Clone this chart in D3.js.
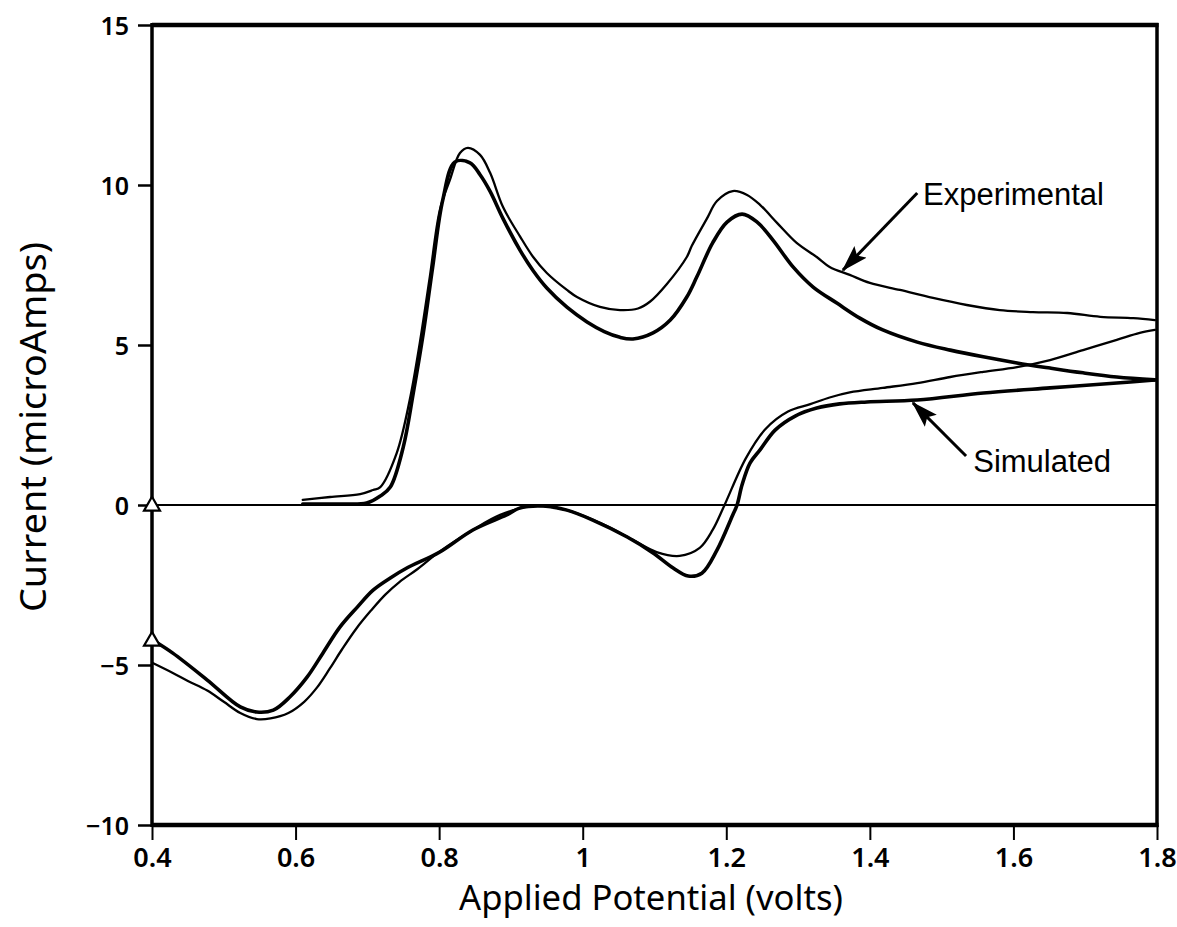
<!DOCTYPE html>
<html><head><meta charset="utf-8">
<script src="https://cdn.jsdelivr.net/npm/d3@7"></script>
<style>
html,body{margin:0;padding:0;background:#fff;}
svg{display:block;}
</style></head>
<body>
<svg id="chart" width="1177" height="927"></svg>
<script>
// ---- data (volts, microAmps) ----
const xTicks = [0.4, 0.6, 0.8, 1.0, 1.2, 1.4, 1.6, 1.8];
const yTicks = [-10, -5, 0, 5, 10, 15];
const xTickLabels = ["0.4", "0.6", "0.8", "1", "1.2", "1.4", "1.6", "1.8"];
const yTickLabels = ["\u221210", "\u22125", "0", "5", "10", "15"];

const expForwardV = [0.610,0.648,0.690,0.708,0.718,0.741,0.759,0.773,0.787,0.801,0.815,0.829,0.840,0.857,0.871,0.889,0.913,0.931,0.950,0.978,0.992,1.024,1.052,1.077,1.094,1.117,1.145,1.152,1.173,1.187,1.209,1.229,1.247,1.271,1.298,1.326,1.344,1.372,1.400,1.442,1.488,1.535,1.581,1.627,1.675,1.721,1.767,1.797];
const expForwardI = [0.16,0.25,0.34,0.47,0.56,1.63,3.28,5.06,7.13,9.22,10.16,11.0,11.16,10.94,10.38,9.31,8.38,7.75,7.25,6.72,6.50,6.19,6.09,6.14,6.36,6.90,7.75,8.10,8.95,9.50,9.81,9.69,9.38,8.81,8.19,7.75,7.44,7.19,6.94,6.72,6.47,6.25,6.09,6.03,6.0,5.88,5.84,5.78];

const simForwardV = [0.610,0.662,0.699,0.718,0.732,0.750,0.764,0.778,0.791,0.805,0.822,0.843,0.857,0.871,0.889,0.913,0.931,0.950,0.978,1.006,1.030,1.052,1.070,1.098,1.122,1.145,1.159,1.181,1.201,1.222,1.243,1.265,1.293,1.321,1.354,1.386,1.418,1.466,1.512,1.558,1.605,1.651,1.697,1.744,1.797];
const simForwardI = [0.03,0.03,0.06,0.28,0.56,1.81,3.5,5.38,7.44,9.53,10.72,10.69,10.32,9.80,8.95,7.95,7.32,6.78,6.18,5.72,5.42,5.24,5.19,5.38,5.78,6.5,7.13,8.19,8.84,9.09,8.84,8.28,7.44,6.81,6.31,5.84,5.47,5.09,4.84,4.63,4.44,4.28,4.13,4.0,3.91];

const expReverseV = [1.797,1.776,1.744,1.697,1.651,1.605,1.558,1.512,1.466,1.418,1.372,1.344,1.317,1.286,1.254,1.227,1.197,1.181,1.163,1.135,1.103,1.070,1.024,0.978,0.931,0.885,0.847,0.801,0.770,0.745,0.725,0.705,0.685,0.665,0.648,0.630,0.612,0.590,0.565,0.546,0.523,0.500,0.477,0.450,0.429,0.401];
const expReverseI = [5.47,5.38,5.16,4.84,4.53,4.31,4.16,4.0,3.81,3.66,3.52,3.36,3.15,2.92,2.36,1.45,-0.03,-0.78,-1.34,-1.59,-1.47,-1.09,-0.56,-0.16,-0.03,-0.31,-0.78,-1.45,-2.0,-2.4,-2.8,-3.3,-3.85,-4.5,-5.1,-5.7,-6.15,-6.5,-6.67,-6.69,-6.5,-6.15,-5.8,-5.5,-5.25,-4.94];

const simReverseV = [1.797,1.744,1.651,1.558,1.466,1.396,1.358,1.326,1.296,1.268,1.247,1.233,1.222,1.215,1.209,1.187,1.166,1.147,1.126,1.098,1.062,1.014,0.978,0.945,0.913,0.894,0.847,0.801,0.755,0.732,0.708,0.686,0.662,0.638,0.616,0.592,0.569,0.546,0.523,0.477,0.429,0.401];
const simReverseI = [3.91,3.81,3.66,3.5,3.28,3.22,3.16,3.03,2.78,2.34,1.72,1.31,0.63,0.0,-0.31,-1.41,-2.13,-2.22,-1.97,-1.5,-1.0,-0.47,-0.16,-0.03,-0.09,-0.31,-0.78,-1.47,-1.97,-2.28,-2.66,-3.19,-3.81,-4.63,-5.38,-6.0,-6.41,-6.47,-6.31,-5.47,-4.63,-4.22];

// start markers on the left axis
const triangleMarks = [{v:0.4, i:0.0}, {v:0.4, i:-4.22}];
const crossMarks = [{v:0.4, i:-4.85}];

// annotations (text + arrow, data coordinates)
const annotations = [
  {text:"Experimental", tv:1.474, ti:9.37, fromV:1.466, fromI:9.75, toV:1.3625, toI:7.34},
  {text:"Simulated",    tv:1.544, ti:1.03, fromV:1.534, fromI:1.53, toV:1.460,  toI:3.19}
];

// ---- layout ----
const svg = d3.select("#chart");
const pL = 152, pR = 1157, pT = 25, pB = 825;
const x = d3.scaleLinear().domain([0.4, 1.8]).range([pL, pR]);
const y = d3.scaleLinear().domain([-10, 15]).range([pB, pT]);

const tickFont = "'Noto Sans', 'DejaVu Sans', sans-serif";

// x axis
const xAxis = svg.append("g").attr("transform", `translate(0,${pB})`)
  .call(d3.axisBottom(x).tickValues(xTicks).tickSize(15).tickSizeOuter(0)
        .tickFormat((d,i) => xTickLabels[i]));
xAxis.select(".domain").remove();
xAxis.selectAll(".tick line").attr("stroke","#000").attr("stroke-width",2);
xAxis.selectAll(".tick text").attr("font-family", tickFont).attr("font-size", 27)
  .attr("font-weight", 600).attr("fill","#000").attr("dy", null).attr("y", 42);

// y axis
const yAxis = svg.append("g").attr("transform", `translate(${pL},0)`)
  .call(d3.axisLeft(y).tickValues(yTicks).tickSize(14).tickSizeOuter(0)
        .tickFormat((d,i) => yTickLabels[i]));
yAxis.select(".domain").remove();
yAxis.selectAll(".tick line").attr("stroke","#000").attr("stroke-width",2.5);
yAxis.selectAll(".tick text").attr("font-family", tickFont).attr("font-size", 25)
  .attr("fill","#000").attr("x", -23).attr("dy","0.36em").attr("font-weight", 600);

// frame
svg.append("line").attr("x1", pL).attr("x2", pR+1.5).attr("y1", y(15)).attr("y2", y(15))
  .attr("stroke","#000").attr("stroke-width",4.5);
svg.append("line").attr("x1", pL).attr("x2", pR+1.5).attr("y1", y(-10)).attr("y2", y(-10))
  .attr("stroke","#000").attr("stroke-width",4.5);
svg.append("line").attr("x1", x(0.4)).attr("x2", x(0.4)).attr("y1", pT-2).attr("y2", pB+2)
  .attr("stroke","#000").attr("stroke-width",3.5);
svg.append("line").attr("x1", x(1.8)).attr("x2", x(1.8)).attr("y1", pT-2).attr("y2", pB+2)
  .attr("stroke","#000").attr("stroke-width",3.5);
// zero line
svg.append("line").attr("x1", x(0.4)).attr("x2", x(1.8)).attr("y1", y(0)).attr("y2", y(0))
  .attr("stroke","#000").attr("stroke-width",2.2);

// curves
const zip = (vs, is) => vs.map((v,k) => [v, is[k]]);
const lineGen = d3.line().x(d => x(d[0])).y(d => y(d[1])).curve(d3.curveCatmullRom.alpha(0.5));

const curves = [
  {data: zip(simForwardV, simForwardI), w: 3.6},
  {data: zip(simReverseV, simReverseI), w: 3.6},
  {data: zip(expForwardV, expForwardI), w: 2.3},
  {data: zip(expReverseV, expReverseI), w: 2.3}
];
svg.append("g").selectAll("path").data(curves).join("path")
  .attr("d", c => lineGen(c.data)).attr("fill","none").attr("stroke","#000")
  .attr("stroke-width", c => c.w).attr("stroke-linejoin","round").attr("stroke-linecap","round");

// markers
svg.append("g").selectAll("path").data(triangleMarks).join("path")
  .attr("d", d3.symbol(d3.symbolTriangle, 110))
  .attr("transform", d => `translate(${x(d.v)},${y(d.i)+1})`)
  .attr("fill","#fff").attr("stroke","#000").attr("stroke-width",2.2);
svg.append("g").selectAll("path").data(crossMarks).join("path")
  .attr("d", d3.symbol(d3.symbolTimes, 110))
  .attr("transform", d => `translate(${x(d.v)},${y(d.i)})`)
  .attr("fill","#000").attr("stroke","none");

// annotations
svg.append("defs").append("marker").attr("id","arrowhead")
  .attr("viewBox","0 0 16 10").attr("refX",15).attr("refY",5)
  .attr("markerWidth",27).attr("markerHeight",17).attr("markerUnits","userSpaceOnUse")
  .attr("orient","auto")
  .append("path").attr("d","M0,0 L16,5 L0,10 L3,5 Z").attr("fill","#000");

const ann = svg.append("g");
ann.selectAll("line").data(annotations).join("line")
  .attr("x1", d => x(d.fromV)).attr("y1", d => y(d.fromI))
  .attr("x2", d => x(d.toV)).attr("y2", d => y(d.toI))
  .attr("stroke","#000").attr("stroke-width",3).attr("marker-end","url(#arrowhead)");
ann.selectAll("text").data(annotations).join("text")
  .attr("x", d => x(d.tv)).attr("y", d => y(d.ti))
  .attr("font-family","'Liberation Sans', Arial, sans-serif").attr("font-size",31)
  .attr("fill","#000").text(d => d.text);

// axis titles
svg.append("text").attr("x", 651).attr("y", 910).attr("text-anchor","middle")
  .attr("font-family", tickFont).attr("font-size", 34).attr("fill","#000")
  .attr("textLength", 384).attr("lengthAdjust","spacingAndGlyphs")
  .text("Applied Potential (volts)");
svg.append("text").attr("transform", `translate(46,427) rotate(-90)`)
  .attr("text-anchor","middle")
  .attr("font-family", tickFont).attr("font-size", 37).attr("fill","#000")
  .attr("textLength", 370).attr("lengthAdjust","spacingAndGlyphs")
  .text("Current (microAmps)");
</script>
</body></html>
